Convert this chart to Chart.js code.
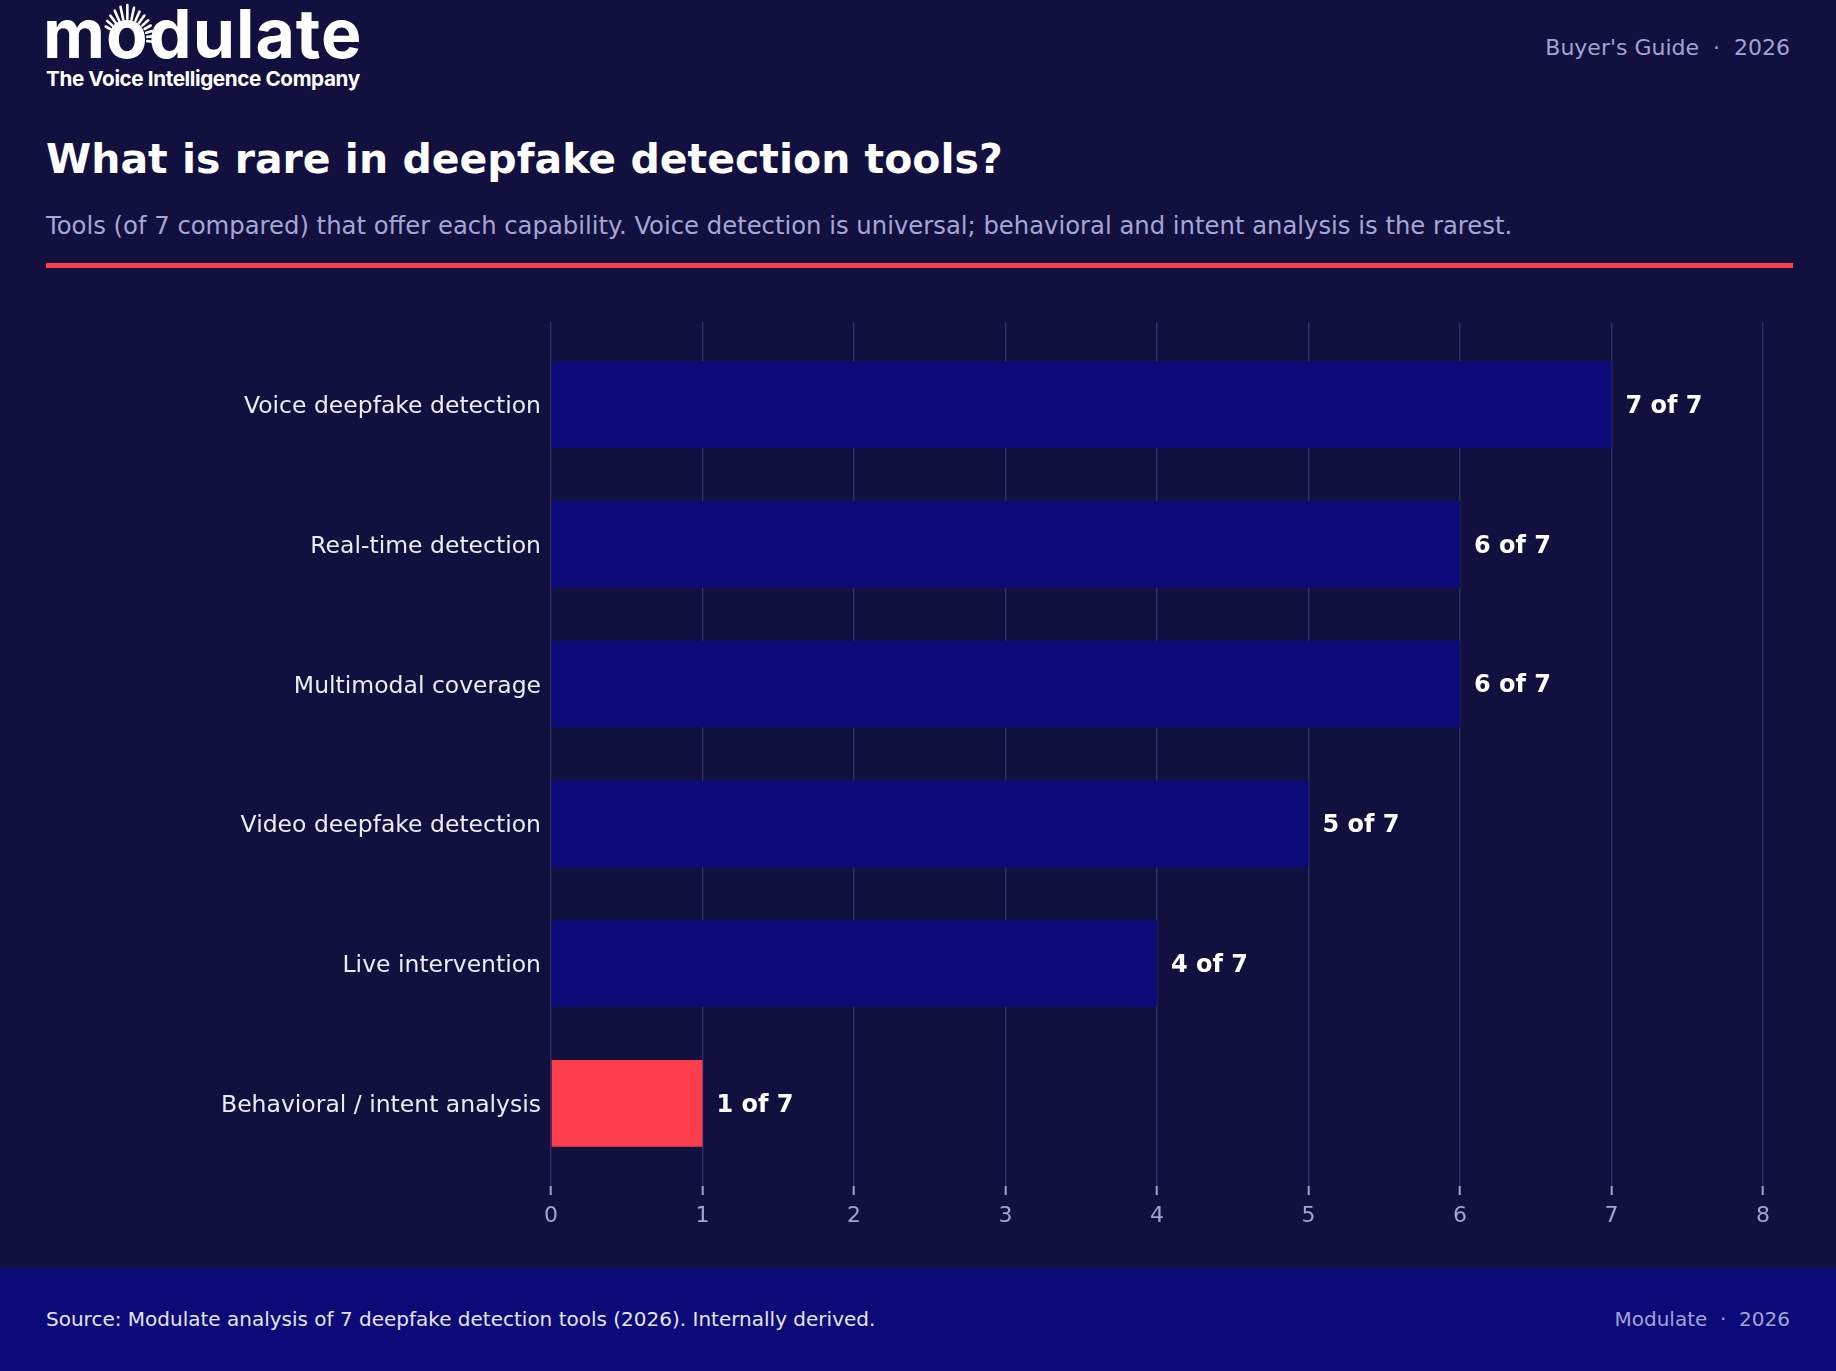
<!DOCTYPE html>
<html>
<head>
<meta charset="utf-8">
<script src="https://cdn.jsdelivr.net/npm/chart.js@4.4.1/dist/chart.umd.min.js"></script>
<style>
  html, body { margin: 0; padding: 0; }
  body {
    width: 1836px; height: 1371px; overflow: hidden; position: relative;
    background: #12103f; font-family: 'DejaVu Sans', sans-serif;
  }
  .abs { position: absolute; white-space: nowrap; line-height: 1; }
  #logo { left: 43px; top: -1px; font-family: Inter, sans-serif; font-weight: 700;
          font-size: 68px; color: #fff; letter-spacing: 1px; }
  #logo .o { position: relative; display: inline-block; }
  #logo svg { position: absolute; left: -12px; top: 0px; overflow: visible; }
  #tagline { left: 46px; top: 69px; font-family: Inter, sans-serif; font-weight: 700;
             font-size: 20.7px; color: #fff; letter-spacing: -0.4px; }
  #guide { right: 46px; top: 37px; font-size: 22px; color: #a3a3d3; }
  #title { left: 46px; top: 139px; font-size: 41px; font-weight: bold; color: #fff; }
  #subtitle { left: 46px; top: 214px; font-size: 24.3px; color: #a6a6d6; }
  #rule { position: absolute; left: 46px; top: 263px; width: 1747px; height: 5px; background: #fc3d4c; }
  #chart-wrap { position: absolute; left: 0; top: 290px; width: 1836px; height: 978px; }
  #footer { position: absolute; left: 0; top: 1268px; width: 1836px; height: 103px; background: #0c0a78; }
  #source { left: 46px; top: 41px; font-size: 20px; color: #e4e4f2; }
  #brand { right: 46px; top: 41px; font-size: 20px; color: #a3a3d3; }
</style>
</head>
<body>
<div id="logo" class="abs">m<span class="o">o<svg id="rays" width="60" height="60"></svg></span>dulate</div>
<div id="tagline" class="abs">The Voice Intelligence Company</div>
<div id="guide" class="abs">Buyer's Guide &nbsp;·&nbsp; 2026</div>
<div id="title" class="abs">What is rare in deepfake detection tools?</div>
<div id="subtitle" class="abs">Tools (of 7 compared) that offer each capability. Voice detection is universal; behavioral and intent analysis is the rarest.</div>
<div id="rule"></div>
<div id="chart-wrap"><canvas id="main-chart"></canvas></div>
<div id="footer">
  <div id="source" class="abs">Source: Modulate analysis of 7 deepfake detection tools (2026). Internally derived.</div>
  <div id="brand" class="abs">Modulate &nbsp;·&nbsp; 2026</div>
</div>

<script>
// ---- Data ----
const categories = [
  'Voice deepfake detection',
  'Real-time detection',
  'Multimodal coverage',
  'Video deepfake detection',
  'Live intervention',
  'Behavioral / intent analysis'
];
const toolCounts = [7, 6, 6, 5, 4, 1];
const totalTools = 7;
const xTicks = [0, 1, 2, 3, 4, 5, 6, 7, 8];
const highlighted = ['Behavioral / intent analysis'];

const NAVY = '#0c0a78';
const RED = '#fc3d4c';

// ---- Logo rays (decoration only) ----
(function drawRays() {
  const svg = document.getElementById('rays');
  const o = document.querySelector('#logo .o');
  const w = o.getBoundingClientRect().width;
  const cx = w / 2 + 12, cy = 40, r0 = 20;
  const lens = [5, 7, 9, 11, 13, 14, 12, 10, 9, 8, 7, 6, 5, 4];
  lens.forEach((len, i) => {
    const a = (-60 + i * 12) * Math.PI / 180;
    const x1 = cx + Math.sin(a) * r0, y1 = cy - Math.cos(a) * r0;
    const x2 = cx + Math.sin(a) * (r0 + len), y2 = cy - Math.cos(a) * (r0 + len);
    const ln = document.createElementNS('http://www.w3.org/2000/svg', 'line');
    ln.setAttribute('x1', x1); ln.setAttribute('y1', y1);
    ln.setAttribute('x2', x2); ln.setAttribute('y2', y2);
    ln.setAttribute('stroke', '#fff'); ln.setAttribute('stroke-width', '2.6');
    ln.setAttribute('stroke-linecap', 'round');
    svg.appendChild(ln);
  });
})();

// ---- Chart ----
const barColors = categories.map(c => highlighted.includes(c) ? RED : NAVY);

const valueLabels = {
  id: 'valueLabels',
  afterDatasetsDraw(chart) {
    const { ctx } = chart;
    const meta = chart.getDatasetMeta(0);
    ctx.save();
    ctx.fillStyle = '#ffffff';
    ctx.font = "bold 24px 'DejaVu Sans'";
    ctx.textAlign = 'left';
    ctx.textBaseline = 'middle';
    meta.data.forEach((bar, i) => {
      ctx.fillText(`${toolCounts[i]} of ${totalTools}`, bar.x + 14, bar.y + 2);
    });
    ctx.restore();
  }
};

new Chart(document.getElementById('main-chart'), {
  type: 'bar',
  data: {
    datasets: [{
      data: categories.map((c, i) => ({ x: toolCounts[i], y: i })),
      backgroundColor: barColors,
      borderWidth: 0,
      barPercentage: 0.62,
      categoryPercentage: 1
    }]
  },
  options: {
    indexAxis: 'y',
    responsive: true,
    maintainAspectRatio: false,
    animation: false,
    layout: { padding: { left: 0, right: 73, top: 32, bottom: 0 } },
    plugins: { legend: { display: false }, tooltip: { enabled: false } },
    scales: {
      x: {
        type: 'linear',
        min: xTicks[0],
        max: xTicks[xTicks.length - 1],
        afterFit: s => { s.height = 82; },
        afterBuildTicks: s => { s.ticks = xTicks.map(v => ({ value: v })); },
        border: { display: false },
        grid: {
          color: '#302f66',
          lineWidth: 1.4,
          drawTicks: true,
          tickLength: 9,
          tickColor: '#a3a3d3',
          tickWidth: 2
        },
        ticks: {
          color: '#a3a3d3',
          font: { family: "'DejaVu Sans'", size: 22 },
          padding: 8
        }
      },
      y: {
        type: 'linear',
        offset: false,
        reverse: true,
        min: -0.591,
        max: categories.length - 1 + 0.591,
        afterFit: s => { s.width = 551; },
        border: { display: false },
        grid: { display: false, drawTicks: false, tickLength: 0, offset: false },
        ticks: {
          stepSize: 1,
          includeBounds: false,
          autoSkip: false,
          labelOffset: 2.5,
          color: '#ececf6',
          font: { family: "'DejaVu Sans'", size: 23.5 },
          padding: 10,
          callback: v => Number.isInteger(v) ? categories[v] : ''
        }
      }
    }
  },
  plugins: [valueLabels]
});
</script>
</body>
</html>
